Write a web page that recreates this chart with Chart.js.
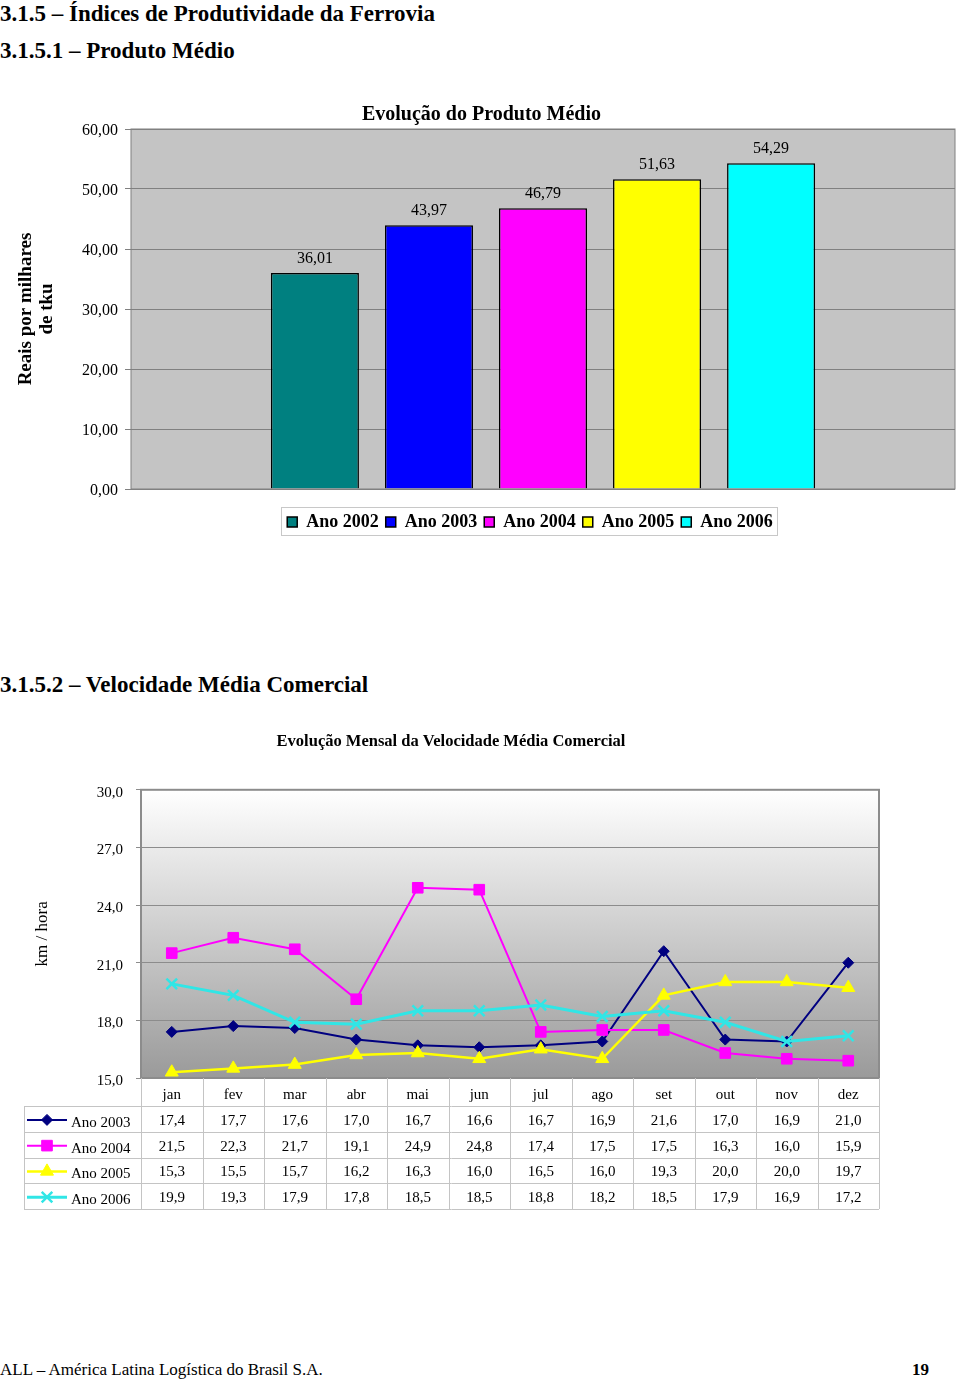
<!DOCTYPE html>
<html lang="pt-BR">
<head>
<meta charset="utf-8">
<title>Índices de Produtividade da Ferrovia</title>
<script src="https://cdn.jsdelivr.net/npm/chart.js@4.4.1/dist/chart.umd.min.js"></script>
<style>
  html, body { margin: 0; padding: 0; background: #fff; }
  #pagina { position: relative; width: 960px; height: 1379px; overflow: hidden;
    font-family: "Liberation Serif", "Times New Roman", serif; color: #000; }
  .tit { position: absolute; left: 0; font-weight: bold; font-size: 23px; line-height: 23px; white-space: nowrap; }
  .rodape { position: absolute; font-size: 17px; line-height: 17px; white-space: nowrap; }
  canvas { position: absolute; left: 0; }
</style>
</head>
<body>
<div id="pagina">
  <div class="tit" style="top:2px">3.1.5 – Índices de Produtividade da Ferrovia</div>
  <div class="tit" style="top:39px">3.1.5.1 – Produto Médio</div>
  <canvas id="graficoProduto" width="960" height="460" style="top:92px"></canvas>

  <div class="tit" style="top:673px">3.1.5.2 – Velocidade Média Comercial</div>
  <canvas id="graficoVelocidade" width="902" height="500" style="top:720px"></canvas>

  <div class="rodape" style="left:0; top:1361px">ALL – América Latina Logística do Brasil S.A.</div>
  <div class="rodape" style="left:912px; top:1361px; font-weight:bold">19</div>
</div>

<script>
// --- dados: produto médio (reais por milhares de tku)
const anos = ['Ano 2002', 'Ano 2003', 'Ano 2004', 'Ano 2005', 'Ano 2006'];
const produtoMedio = [36.01, 43.97, 46.79, 51.63, 54.29];
const ticksProduto = [0, 10, 20, 30, 40, 50, 60];

// --- dados: velocidade média comercial (km / hora)
const meses = ['jan', 'fev', 'mar', 'abr', 'mai', 'jun', 'jul', 'ago', 'set', 'out', 'nov', 'dez'];
const seriesVel = ['Ano 2003', 'Ano 2004', 'Ano 2005', 'Ano 2006'];
const vel2003 = [17.4, 17.7, 17.6, 17.0, 16.7, 16.6, 16.7, 16.9, 21.6, 17.0, 16.9, 21.0];
const vel2004 = [21.5, 22.3, 21.7, 19.1, 24.9, 24.8, 17.4, 17.5, 17.5, 16.3, 16.0, 15.9];
const vel2005 = [15.3, 15.5, 15.7, 16.2, 16.3, 16.0, 16.5, 16.0, 19.3, 20.0, 20.0, 19.7];
const vel2006 = [19.9, 19.3, 17.9, 17.8, 18.5, 18.5, 18.8, 18.2, 18.5, 17.9, 16.9, 17.2];
const ticksVel = [15, 18, 21, 24, 27, 30];

const SERIF = '"Liberation Serif", "Times New Roman", serif';
const coresBarras = ['#008080', '#0000ff', '#ff00ff', '#ffff00', '#00ffff'];
const estilosLinha = [
  { cor: '#000080', ponto: 'rectRot', raio: 5.5, largura: 2, borda: 1 },
  { cor: '#ff00ff', ponto: 'rect', raio: 7.5, largura: 2, borda: 1 },
  { cor: '#ffff00', ponto: 'triangle', raio: 7.5, largura: 2.5, borda: 1 },
  { cor: '#30e6e6', ponto: 'crossRot', raio: 7.5, largura: 3, borda: 2.5 }
];

const virgula = (v, d) => v.toFixed(d).replace('.', ',');

// fundo e moldura da área de plotagem
function fundoPlot(pintar, corBorda, larguraBorda) {
  return {
    id: 'fundoPlot',
    beforeDraw(chart) {
      const { ctx, chartArea: a } = chart;
      ctx.save();
      ctx.fillStyle = pintar(ctx, a);
      ctx.fillRect(a.left, a.top, a.width, a.height);
      ctx.restore();
    },
    afterDatasetsDraw(chart) {
      const { ctx, chartArea: a } = chart;
      ctx.save();
      ctx.strokeStyle = corBorda;
      ctx.lineWidth = larguraBorda;
      ctx.strokeRect(a.left, a.top, a.width, a.height);
      ctx.restore();
    }
  };
}

// rótulos de valor acima das barras
const rotulosBarras = {
  id: 'rotulosBarras',
  afterDatasetsDraw(chart) {
    const ctx = chart.ctx;
    ctx.save();
    ctx.font = '16px ' + SERIF;
    ctx.fillStyle = '#000';
    ctx.textAlign = 'center';
    ctx.textBaseline = 'alphabetic';
    chart.data.datasets.forEach((ds, i) => {
      const barra = chart.getDatasetMeta(i).data[0];
      ctx.fillText(virgula(ds.data[0], 2), barra.x, barra.y - 10);
    });
    ctx.restore();
  }
};

// legenda deslocada e com moldura, como no Excel
const molduraLegenda = {
  id: 'molduraLegenda',
  afterLayout(chart) {
    chart.legend.left -= 13;
    chart.legend.right -= 13;
  },
  afterDraw(chart) {
    const lg = chart.legend;
    const pad = lg.options.labels.padding;
    const x0 = (lg.left + pad + lg.right - lg.lineWidths[0]) / 2;
    const x1 = x0 + lg.lineWidths[0] - pad;
    const cy = lg.top + pad + 9;
    const ctx = chart.ctx;
    ctx.save();
    ctx.strokeStyle = '#c8c8c8';
    ctx.lineWidth = 1;
    ctx.strokeRect(Math.round(x0 - 6) + 0.5, Math.round(cy - 15) + 0.5, Math.round(x1 - x0 + 10), 28);
    ctx.restore();
  }
};

new Chart(document.getElementById('graficoProduto'), {
  type: 'bar',
  data: {
    labels: [''],
    datasets: anos.map((ano, i) => ({
      label: ano,
      data: [produtoMedio[i]],
      backgroundColor: coresBarras[i],
      borderColor: '#000',
      borderWidth: 1.5,
      categoryPercentage: 0.692,
      barPercentage: 0.772
    }))
  },
  options: {
    responsive: false,
    animation: false,
    layout: { padding: { left: 8, right: 5, top: 0, bottom: 11 } },
    plugins: {
      title: {
        display: true,
        text: 'Evolução do Produto Médio',
        color: '#000',
        font: { family: SERIF, size: 20, weight: 'bold', lineHeight: 1.2 },
        padding: { top: 11, bottom: 2 }
      },
      legend: {
        position: 'bottom',
        fullSize: false,
        labels: {
          boxWidth: 10, boxHeight: 10, padding: 7, color: '#000',
          font: { family: SERIF, size: 18, weight: 'bold' }
        }
      },
      tooltip: { enabled: false }
    },
    scales: {
      x: {
        ticks: { display: false },
        grid: { display: false, drawTicks: false },
        border: { display: false },
        afterFit: s => { s.height = 17; }
      },
      y: {
        min: 0,
        max: 60,
        afterBuildTicks: s => { s.ticks = ticksProduto.map(v => ({ value: v })); },
        ticks: {
          callback: v => virgula(v, 2),
          color: '#000',
          font: { family: SERIF, size: 16 },
          padding: 7,
          labelOffset: 2
        },
        grid: { color: '#808080', tickLength: 6 },
        border: { display: false },
        title: {
          display: true,
          text: ['Reais por milhares', 'de tku'],
          color: '#000',
          font: { family: SERIF, size: 19, weight: 'bold', lineHeight: 1.1 },
          padding: { top: 8, bottom: 0 }
        },
        afterFit: s => { s.width = 123; }
      }
    }
  },
  plugins: [fundoPlot(() => '#c4c4c4', '#808080', 1), rotulosBarras, molduraLegenda]
});

// tabela de dados sob o gráfico de linhas
const tabelaDados = {
  id: 'tabelaDados',
  afterDraw(chart) {
    const { ctx, chartArea: a, scales: { x } } = chart;
    const topo = a.bottom;
    const base = x.bottom;
    const cab = 28;
    const alt = (base - topo - cab) / seriesVel.length;
    const esq = 24;
    const linha = (x1, y1, x2, y2) => { ctx.beginPath(); ctx.moveTo(x1, y1); ctx.lineTo(x2, y2); ctx.stroke(); };
    ctx.save();
    ctx.strokeStyle = '#c4c4c4';
    ctx.lineWidth = 1;
    for (let r = 0; r <= seriesVel.length; r++) {
      const y = Math.round(topo + cab + r * alt) + 0.5;
      linha(esq, y, a.right, y);
    }
    for (let i = 0; i <= meses.length; i++) {
      const xx = Math.round(x.getPixelForValue(i - 0.5)) + 0.5;
      linha(xx, topo, xx, base);
    }
    linha(esq + 0.5, topo + cab, esq + 0.5, base);

    ctx.fillStyle = '#000';
    chart.data.datasets.forEach((ds, r) => {
      const meio = topo + cab + r * alt + alt / 2;
      ctx.font = '15px ' + SERIF;
      ctx.textAlign = 'center';
      ctx.textBaseline = 'middle';
      ds.data.forEach((v, i) => ctx.fillText(virgula(v, 1), x.getPixelForValue(i), meio + 2));
      ctx.textAlign = 'left';
      ctx.fillText(ds.label, esq + 47, meio + 4);
      // chave da série
      const est = estilosLinha[r];
      ctx.save();
      ctx.strokeStyle = est.cor;
      ctx.fillStyle = est.cor;
      ctx.lineWidth = est.largura;
      linha(esq + 3, meio + 1, esq + 43, meio + 1);
      if (Chart.helpers && Chart.helpers.drawPoint) {
        ctx.lineWidth = est.borda;
        Chart.helpers.drawPoint(ctx, { pointStyle: est.ponto, radius: est.raio, rotation: 0, borderWidth: est.borda }, esq + 23, meio + 1);
      }
      ctx.restore();
    });
    ctx.restore();
  }
};

const valoresVel = [vel2003, vel2004, vel2005, vel2006];

new Chart(document.getElementById('graficoVelocidade'), {
  type: 'line',
  data: {
    labels: meses,
    datasets: seriesVel.map((nome, i) => {
      const est = estilosLinha[i];
      return {
        label: nome,
        data: valoresVel[i],
        borderColor: est.cor,
        backgroundColor: est.cor,
        borderWidth: est.largura,
        pointStyle: est.ponto,
        pointRadius: est.raio,
        pointBorderWidth: est.borda,
        pointBackgroundColor: est.cor,
        pointBorderColor: est.cor,
        tension: 0,
        fill: false,
        order: seriesVel.length - i
      };
    })
  },
  options: {
    responsive: false,
    animation: false,
    layout: { padding: { left: 23, right: 23, top: 0, bottom: 11 } },
    plugins: {
      title: {
        display: true,
        text: 'Evolução Mensal da Velocidade Média Comercial',
        color: '#000',
        font: { family: SERIF, size: 16.5, weight: 'bold', lineHeight: 1.2 },
        padding: { top: 12, bottom: 38 }
      },
      legend: { display: false },
      tooltip: { enabled: false }
    },
    scales: {
      x: {
        offset: true,
        grid: { display: false, drawTicks: false },
        border: { display: false },
        ticks: { color: '#000', font: { family: SERIF, size: 15 }, padding: 8, maxRotation: 0, autoSkip: false },
        afterFit: s => { s.height = 131; }
      },
      y: {
        min: 15,
        max: 30,
        afterBuildTicks: s => { s.ticks = ticksVel.map(v => ({ value: v })); },
        ticks: {
          callback: v => virgula(v, 1),
          color: '#000',
          font: { family: SERIF, size: 15 },
          padding: 13,
          labelOffset: 3
        },
        grid: { color: '#8c8c8c', tickLength: 5 },
        border: { display: false },
        title: {
          display: true,
          text: 'km / hora',
          color: '#000',
          font: { family: SERIF, size: 17, lineHeight: 1.2 },
          padding: { top: 9, bottom: 0 }
        },
        afterFit: s => { s.width = 118; }
      }
    }
  },
  plugins: [
    fundoPlot((ctx, a) => {
      const g = ctx.createLinearGradient(0, a.top, 0, a.bottom);
      g.addColorStop(0, '#ffffff');
      g.addColorStop(1, '#9a9a9a');
      return g;
    }, '#8c8c8c', 2),
    tabelaDados
  ]
});
</script>
</body>
</html>
